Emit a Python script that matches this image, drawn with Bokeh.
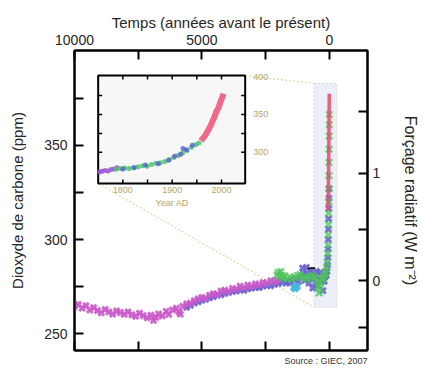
import math
from bokeh.plotting import figure
from bokeh.models import Range1d, LinearAxis, FixedTicker, Title
from bokeh.embed import file_html
from bokeh.resources import INLINE
from bokeh.core.properties import value

FONT = "Liberation Sans"

# ---------------- data : main chart (years before 2005, ppm) ----------------
magenta_bp = [10000, 9850, 9700, 9550, 9400, 9250, 9100, 8950, 8800, 8650, 8500, 8350, 8200,
              8050, 7900, 7750, 7600, 7450, 7300, 7150, 7000, 6900, 6800, 6700, 6550, 6400,
              6300, 6150, 6000, 5900, 5850, 5750, 5600, 5450, 5300, 5150, 5000, 4850, 4700,
              4550, 4400, 4250, 4100, 3950, 3800, 3650, 3500, 3350, 3200, 3050, 2900, 2750,
              2600, 2450, 2300, 2150, 2050]
magenta_ppm = [264.5, 265.5, 263.5, 264.8, 262.5, 263.8, 262.2, 261.0, 262.8, 261.5, 260.4, 262.0,
               261.2, 260.2, 261.5, 260.0, 259.2, 260.8, 259.5, 258.4, 259.8, 257.0, 258.6, 260.5,
               259.4, 261.8, 260.2, 262.6, 263.5, 261.5, 260.3, 264.6, 265.8, 266.2, 267.5, 268.4,
               269.2, 268.6, 270.4, 271.2, 270.8, 272.6, 273.1, 272.4, 274.0, 273.6, 275.2, 274.4,
               275.8, 275.1, 276.4, 276.0, 277.2, 276.8, 278.1, 277.6, 278.6]

blue_bp = [5600, 5450, 5300, 5150, 5000, 4850, 4700, 4550, 4400, 4250, 4100, 3950, 3800, 3650,
           3500, 3350, 3200, 3050, 2900, 2750, 2600, 2450, 2300, 2150, 2000, 1850, 1700, 1600,
           1500, 1400, 1300, 1200, 1100, 1050, 1000, 950, 900, 850, 800, 750, 700, 650, 600,
           550, 500, 450, 400, 350, 300, 250, 200, 160, 120, 90, 70, 55, 45, 38, 32, 26, 20, 14, 8]
blue_ppm = [264.0, 265.0, 266.2, 266.8, 267.6, 268.2, 269.0, 269.6, 270.4, 270.6, 271.4, 271.8,
            272.4, 272.6, 273.2, 273.0, 273.8, 274.2, 274.6, 274.4, 275.2, 275.6, 275.4, 276.2,
            276.6, 277.4, 276.8, 278.0, 277.2, 278.6, 279.4, 277.6, 280.6, 284.8, 282.0, 278.4,
            285.2, 281.6, 276.8, 283.4, 279.8, 274.2, 281.8, 277.0, 283.0, 275.6, 278.6, 282.4,
            279.0, 272.8, 277.8, 280.4, 281.0, 283.0, 286.5, 290.5, 295.0, 300.0, 305.5, 311.0,
            316.5, 322.0, 327.0]

green_bp = [2050, 2000, 1950, 1900, 1850, 1800, 1750, 1650, 1550, 1450, 1350, 1250, 1150, 1050,
            950, 850, 750, 650, 550, 480, 430, 400, 370, 330, 280, 230, 180, 140, 100, 80, 60,
            48, 40, 34, 28, 23, 18, 14, 10, 7, 4, 1, -2]
green_ppm = [281.2, 282.6, 280.4, 283.0, 281.0, 279.4, 280.6, 279.0, 280.2, 278.8, 279.8, 280.8,
             281.4, 279.6, 280.2, 278.6, 280.4, 281.0, 279.6, 277.8, 275.0, 271.6, 273.8, 277.2,
             279.0, 279.6, 281.2, 282.8, 285.0, 288.0, 292.5, 297.0, 302.5, 308.0, 314.0, 320.0,
             327.0, 334.0, 341.0, 348.0, 355.0, 361.0, 366.5]

cyan_bp = [1400, 1350, 1300, 1250]
cyan_ppm = [274.6, 273.8, 274.4, 275.2]

black_bp = [850, 560]
black_ppm = [284.6, 284.8]

# ---------------- data : inset (year AD, ppm) ----------------
inset_purple_year = [1753, 1758, 1764, 1770, 1776, 1782, 1788]
inset_purple_ppm = [274.0, 275.2, 276.0, 275.6, 277.4, 278.2, 279.6]

inset_green_year = [1786, 1795, 1804, 1813, 1822, 1831, 1840, 1849, 1858, 1867, 1876, 1885,
                    1894, 1903, 1912, 1921, 1930, 1939, 1948, 1954]
inset_green_ppm = [277.6, 278.9, 279.4, 278.6, 280.2, 281.0, 282.4, 281.8, 283.9, 285.6, 286.3,
                   288.1, 290.6, 293.4, 295.8, 299.1, 302.6, 306.8, 310.2, 312.3]

inset_blue_year = [1800, 1823, 1846, 1872, 1893, 1905, 1917, 1922, 1929, 1941]
inset_blue_ppm = [278.2, 279.8, 283.2, 285.0, 289.6, 295.0, 297.4, 305.0, 303.6, 309.4]

mauna_year = [1958, 1962, 1966, 1970, 1974, 1978, 1982, 1986, 1990, 1994, 1998, 2002, 2004]
mauna_ppm = [315.3, 318.4, 321.4, 325.7, 330.2, 335.4, 341.1, 347.4, 354.4, 358.8, 366.7, 373.2, 377.5]

REF_YEAR = 2005
mauna_bp = [REF_YEAR - y for y in mauna_year]

# ---------------- ticks ----------------
time_ticks = [10000, 7500, 5000, 2500, 0]
time_labels = ["10000", "", "5000", "", "0"]
co2_ticks = [250, 275, 300, 325, 350, 375]
co2_labels = ["250", "", "300", "", "350", ""]
forcing_ticks = [-0.5, 0, 0.5, 1, 1.5]
forcing_labels = ["", "0", "", "1", ""]
C0 = 278.0
forcing_pos = [C0 * math.exp(f / 5.35) for f in forcing_ticks]

inset_x_ticks = [1800, 1850, 1900, 1950, 2000]
inset_x_labels = ["1800", "1900", "2000"]
inset_y_ticks = [300, 325, 350, 375]
inset_y_labels = ["300", "350", "400"]

# ---------------- layout constants ----------------
X0, X1 = 10000, -1500
Y0, Y1 = 241, 400.5
IN_X0, IN_X1 = 1750, 2048
IN_Y0, IN_Y1 = 259, 401.3
IN_TX0, IN_TX1 = 9071, 3301
IN_TY0, IN_TY1 = 329.8, 387.2
HL_LEFT, HL_RIGHT, HL_BOTTOM, HL_TOP = 600, -300, 264, 383

TXT = "#262626"
TAN = "#b3a46c"

p = figure(width=422, height=369, output_backend="svg", toolbar_location=None,
           x_range=Range1d(X0, X1), y_range=Range1d(Y0, Y1),
           x_axis_location="above",
           min_border_left=74, min_border_right=51, min_border_top=50, min_border_bottom=19)
p.grid.visible = False
p.outline_line_color = "black"
p.outline_line_width = 2
p.background_fill_color = "white"
p.border_fill_color = "white"


def style_axis(ax, ticks, labels):
    ax.ticker = FixedTicker(ticks=ticks)
    ax.major_label_overrides = {float(t): l for t, l in zip(ticks, labels)}
    ax.major_tick_in = 9
    ax.major_tick_out = 0
    ax.minor_tick_line_color = None
    ax.major_tick_line_width = 2
    ax.axis_line_width = 2
    ax.major_label_text_font = FONT
    ax.major_label_text_font_size = "14px"
    ax.major_label_text_color = TXT
    ax.axis_label_text_font = FONT
    ax.axis_label_text_font_size = "15px"
    ax.axis_label_text_font_style = "normal"
    ax.axis_label_text_color = TXT


top = p.xaxis[0]
style_axis(top, time_ticks, time_labels)
top.axis_label = "Temps (années avant le présent)"
top.major_label_standoff = 6
top.axis_label_standoff = 1

left = p.yaxis[0]
style_axis(left, co2_ticks, co2_labels)
left.axis_label = "Dioxyde de carbone (ppm)"
left.major_label_standoff = 7
left.axis_label_standoff = 15

bottom = LinearAxis()
style_axis(bottom, time_ticks, [""] * len(time_ticks))
bottom.major_label_text_font_size = "0px"
bottom.major_label_standoff = 0
bottom.axis_label_standoff = 0
p.add_layout(bottom, "below")

right = LinearAxis()
style_axis(right, forcing_pos, forcing_labels)
right.axis_label = "Forçage radiatif (W m⁻²)"
right.axis_label_text_font_size = "16px"
right.major_label_standoff = 5
right.axis_label_standoff = 19
p.add_layout(right, "right")

src = Title(text="Source : GIEC, 2007", align="right", text_font=FONT, text_font_size="9px",
            text_font_style="normal", text_color="#333333", standoff=6, offset=0)
p.add_layout(src, "below")

# highlight box and connectors
p.quad(left=[HL_LEFT], right=[HL_RIGHT], bottom=[HL_BOTTOM], top=[HL_TOP],
       fill_color="#edeff8", line_color="#d2d6e4", line_dash="2 2", line_width=1)
p.segment(x0=[IN_TX1, IN_TX0], y0=[IN_TY1, IN_TY0], x1=[HL_LEFT, HL_LEFT], y1=[HL_TOP, HL_BOTTOM],
          line_color="#dcdaa0", line_dash="2 2", line_width=1.2)

MK = dict(marker="x", size=8, line_width=3, alpha=0.9)
p.scatter(blue_bp, blue_ppm, line_color="#6a63d3", **MK)
p.scatter(magenta_bp, magenta_ppm, line_color="#c959c9", **MK)
p.scatter(cyan_bp, cyan_ppm, line_color="#45b8e0", **MK)
p.line(black_bp, black_ppm, line_color="#222222", line_width=2)
p.scatter(green_bp, green_ppm, line_color="#4cc35a", marker="x", size=9, line_width=2.5, alpha=0.75)
p.line(mauna_bp, mauna_ppm, line_color="#e8506e", line_width=3.5, line_alpha=0.9)

# ---------------- inset ----------------
ins = p.subplot(x_source=Range1d(IN_X0, IN_X1), y_source=Range1d(IN_Y0, IN_Y1),
                x_target=Range1d(IN_TX0, IN_TX1), y_target=Range1d(IN_TY0, IN_TY1))
ins.quad(left=[IN_X0], right=[IN_X1], bottom=[IN_Y0], top=[IN_Y1],
         fill_color="#f7f7f7", line_color="black", line_width=2)
IMK = dict(marker="circle", size=5, line_width=0, alpha=0.85)
ins.scatter(inset_purple_year, inset_purple_ppm, fill_color="#9b55d6", **IMK)
ins.scatter(inset_green_year, inset_green_ppm, fill_color="#4cc36a", **IMK)
ins.scatter(inset_blue_year, inset_blue_ppm, fill_color="#5a6ad0", **IMK)
ins.line(mauna_year, mauna_ppm, line_color="#f0587e", line_width=6, line_alpha=0.9)

TL = 4
ins.ray(x=inset_x_ticks, y=[IN_Y0] * len(inset_x_ticks), length=TL, angle=math.pi / 2,
        length_units="screen", line_color="black", line_width=1.5)
ins.ray(x=inset_x_ticks, y=[IN_Y1] * len(inset_x_ticks), length=TL, angle=-math.pi / 2,
        length_units="screen", line_color="black", line_width=1.5)
ins.ray(x=[IN_X0] * len(inset_y_ticks), y=inset_y_ticks, length=TL, angle=0,
        length_units="screen", line_color="black", line_width=1.5)
ins.ray(x=[IN_X1] * len(inset_y_ticks), y=inset_y_ticks, length=TL, angle=math.pi,
        length_units="screen", line_color="black", line_width=1.5)

ins.text(x=[1800, 1900, 2000], y=[IN_Y0] * 3, text=inset_x_labels, text_align="center",
         text_baseline="top", y_offset=4, text_font=value(FONT), text_font_size="9px",
         text_color=TAN)
ins.text(x=[1900], y=[IN_Y0], text=["Year AD"], text_align="center", text_baseline="top",
         y_offset=15, text_font=value(FONT), text_font_size="9px", text_color=TAN)
ins.text(x=[IN_X1] * 3, y=[300, 350, 400], text=inset_y_labels, text_align="left",
         text_baseline="middle", x_offset=8, text_font=value(FONT), text_font_size="9px",
         text_color=TAN)

open("out.html", "w").write(file_html(p, INLINE))
